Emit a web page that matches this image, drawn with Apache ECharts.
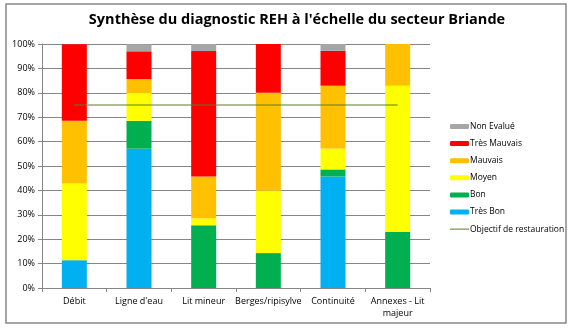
<!DOCTYPE html>
<html><head><meta charset="utf-8">
<script src="https://cdn.jsdelivr.net/npm/echarts@6/dist/echarts.min.js"></script>
<style>html,body{margin:0;padding:0;background:#fff}#c{width:573px;height:330px}</style>
</head><body><div id="c"></div>
<script>
var categories = ['Débit', "Ligne d'eau", 'Lit mineur', 'Berges/ripisylve', 'Continuité', 'Annexes - Lit\nmajeur'];
var tresBon     = [11.4, 57.1, 0,    0,    45.7, 0];
var bon         = [0,    11.4, 25.7, 14.3, 2.9,  22.9];
var moyen       = [31.4, 11.4, 2.9,  25.7, 8.6,  60.0];
var mauvais     = [25.7, 5.7,  17.1, 40.0, 25.7, 17.1];
var tresMauvais = [31.4, 11.4, 51.4, 20.0, 14.3, 0];
var nonEvalue   = [0,    2.9,  2.9,  0,    2.9,  0];
var objectif    = [75, 75, 75, 75, 75, 75];
var yTicks = [0, 10, 20, 30, 40, 50, 60, 70, 80, 90, 100];

var font = 'Open Sans';
var chart = echarts.init(document.getElementById('c'), null, {renderer: 'canvas'});
function bar(name, data, color) {
  return {name: name, type: 'bar', stack: 's', data: data, barWidth: 25,
    itemStyle: {color: color}, emphasis: {disabled: true}};
}
chart.setOption({
  animation: false,
  textStyle: {fontFamily: font},
  graphic: [
    {type: 'rect', shape: {x: 6, y: 4, width: 560, height: 319},
     style: {fill: 'none', stroke: '#888', lineWidth: 1.5}, z: -1},
    {type: 'text', x: 297, y: 20,
     style: {text: "Synthèse du diagnostic REH à l'échelle du secteur Briande",
       font: 'bold 14.5px "Open Sans"', fill: '#000', align: 'center', verticalAlign: 'middle'}}
  ],
  grid: {left: 42, right: 143, top: 44, bottom: 42, containLabel: false},
  legend: {
    orient: 'vertical', left: 445, top: 117, itemGap: 8.1,
    itemWidth: 19, itemHeight: 5,
    textStyle: {fontSize: 8.5, color: '#000', fontFamily: font, padding: [0, 0, 0, -4]},
    data: ['Non Evalué', 'Très Mauvais', 'Mauvais', 'Moyen', 'Bon', 'Très Bon',
      {name: 'Objectif de restauration', icon: 'path://M0 0h19v1H0z'}]
  },
  xAxis: {
    type: 'category', data: categories,
    axisLine: {lineStyle: {color: '#868686'}},
    axisTick: {show: true, lineStyle: {color: '#868686'}, length: 4},
    axisLabel: {fontSize: 9, color: '#000', interval: 0, margin: 7, lineHeight: 12}
  },
  yAxis: {
    type: 'value', min: 0, max: 100, interval: 10,
    axisLine: {show: true, lineStyle: {color: '#868686'}},
    axisTick: {show: true, length: 4, lineStyle: {color: '#868686'}},
    splitLine: {lineStyle: {color: '#868686'}},
    axisLabel: {fontSize: 9, color: '#000', margin: 7,
      formatter: function (v) { return yTicks.indexOf(v) >= 0 ? v + '%' : ''; }}
  },
  series: [
    bar('Très Bon', tresBon, '#00b0f0'),
    bar('Bon', bon, '#00b050'),
    bar('Moyen', moyen, '#ffff00'),
    bar('Mauvais', mauvais, '#ffc000'),
    bar('Très Mauvais', tresMauvais, '#ff0000'),
    bar('Non Evalué', nonEvalue, '#a6a6a6'),
    {name: 'Objectif de restauration', type: 'line', data: objectif, symbol: 'none', showSymbol: false,
     lineStyle: {color: '#5b7d2a', width: 1}, itemStyle: {color: '#5b7d2a'}, z: 5}
  ]
});
</script></body></html>
